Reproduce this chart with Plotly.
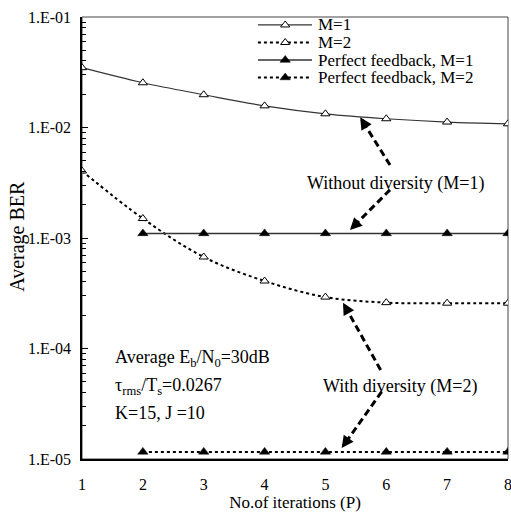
import plotly.graph_objects as go

# ---------------- data ----------------
P = [1, 2, 3, 4, 5, 6, 7, 8]
ber_m1 = [0.0348, 0.0254, 0.0198, 0.0157, 0.0133, 0.0120, 0.0112, 0.0108]
ber_m2 = [0.00404, 0.00150, 0.000673, 0.000408, 0.000292, 0.000260, 0.000257, 0.000257]
P_pf = [2, 3, 4, 5, 6, 7, 8]
ber_pf_m1 = [0.00110] * 7
ber_pf_m2 = [1.16e-5] * 7

legend_labels = ["M=1", "M=2", "Perfect feedback, M=1", "Perfect feedback, M=2"]
x_ticktext = ["1", "2", "3", "4", "5", "6", "7", "8"]
y_tickvals = [1e-5, 1e-4, 1e-3, 1e-2, 1e-1]
y_ticktext = ["1.E-05", "1.E-04", "1.E-03", "1.E-02", "1.E-01"]

FONT = "Liberation Serif, Times New Roman, serif"
W, H = 426, 442  # plot area in px

fig = go.Figure()

open_tri = dict(symbol="triangle-up", size=8, color="white", line=dict(color="black", width=1))
fill_tri = dict(symbol="triangle-up", size=9, color="black", line=dict(color="black", width=0.5))

fig.add_trace(go.Scatter(x=P, y=ber_m1, mode="lines+markers", line=dict(color="#333333", width=1.2, shape="spline"),
                         marker=open_tri, showlegend=False))
fig.add_trace(go.Scatter(x=P, y=ber_m2, mode="lines+markers", line=dict(color="black", width=2, dash="dot", shape="spline"),
                         marker=open_tri, showlegend=False))
fig.add_trace(go.Scatter(x=P_pf, y=ber_pf_m1, mode="lines+markers", line=dict(color="#333333", width=1.5),
                         marker=fill_tri, showlegend=False))
fig.add_trace(go.Scatter(x=P_pf, y=ber_pf_m2, mode="lines+markers", line=dict(color="black", width=2, dash="dot"),
                         marker=fill_tri, showlegend=False))

# ---------------- custom legend on an overlay (0..1) axis ----------------
leg_rows = [0.982, 0.9423, 0.9027, 0.8631]
leg_x0, leg_xm, leg_x1, leg_tx = 0.413, 0.477, 0.540, 0.549
leg_styles = [
    (dict(color="#333333", width=1.2), open_tri),
    (dict(color="black", width=2, dash="dot"), open_tri),
    (dict(color="#333333", width=1.5), fill_tri),
    (dict(color="black", width=2, dash="dot"), fill_tri),
]
for yy, (ln, mk), lab in zip(leg_rows, leg_styles, legend_labels):
    fig.add_trace(go.Scatter(x=[leg_x0, leg_x1], y=[yy, yy], mode="lines", line=ln,
                             xaxis="x2", yaxis="y2", showlegend=False, hoverinfo="skip"))
    fig.add_trace(go.Scatter(x=[leg_xm], y=[yy], mode="markers", marker=mk,
                             xaxis="x2", yaxis="y2", showlegend=False, hoverinfo="skip"))
    fig.add_annotation(x=leg_tx, y=yy, xref="paper", yref="paper", text=lab, showarrow=False,
                       xanchor="left", yanchor="middle", font=dict(family=FONT, size=17, color="black"))

# ---------------- text annotations ----------------
def txt(x, y, s, xanchor="center"):
    fig.add_annotation(x=x, y=y, xref="paper", yref="paper", text=s, showarrow=False,
                       xanchor=xanchor, yanchor="middle", font=dict(family=FONT, size=18, color="black"))

txt(0.737, 0.624, "Without diversity (M=1)")
txt(0.746, 0.163, "With diversity (M=2)")
txt(0.0735, 0.2285, "Average E<sub>b</sub>/N<sub>0</sub>=30dB", "left")
txt(0.0735, 0.163, "τ<sub>rms</sub>/T<sub>s</sub>=0.0267", "left")
txt(0.0735, 0.104, "K=15, J =10", "left")

# y-axis title placed as rotated text
fig.add_annotation(x=-0.150, y=0.503, xref="paper", yref="paper", text="Average BER", showarrow=False,
                   textangle=-90, xanchor="center", yanchor="middle",
                   font=dict(family=FONT, size=20, color="black"))

# ---------------- dashed arrows ----------------
arrows = [
    ((0.723, 0.665), (0.653, 0.773)),
    ((0.723, 0.609), (0.629, 0.518)),
    ((0.701, 0.2014), (0.6127, 0.3536)),
    ((0.7035, 0.1523), (0.6096, 0.0249)),
]
for (tx, ty), (hx, hy) in arrows:
    dxp = (tx - hx) * W
    dyp = (ty - hy) * H
    L = (dxp ** 2 + dyp ** 2) ** 0.5
    ux, uy = dxp / L, dyp / L
    back = 9
    ex, ey = hx + ux * back / W, hy + uy * back / H
    fig.add_shape(type="line", xref="paper", yref="paper", x0=tx, y0=ty, x1=ex, y1=ey,
                  line=dict(color="black", width=3, dash="7px,4px"))
    fig.add_annotation(x=hx, y=hy, xref="paper", yref="paper", text="", showarrow=True,
                       ax=ux * 12, ay=-uy * 12, arrowhead=2, arrowsize=0.8, arrowwidth=3,
                       arrowcolor="black", standoff=0)

# frame (top/right thin)
fig.add_shape(type="rect", xref="paper", yref="paper", x0=0, y0=0, x1=1, y1=1,
              line=dict(color="#444444", width=1), layer="below")

fig.update_layout(
    width=511, height=513,
    margin=dict(l=82, r=3, t=17, b=54, autoexpand=False),
    paper_bgcolor="white", plot_bgcolor="white",
    font=dict(family=FONT, color="black"),
    showlegend=False,
    xaxis=dict(range=[0.9995, 8.0005], tickvals=P, ticktext=x_ticktext, showgrid=False, zeroline=False,
               showline=True, linecolor="black", linewidth=2, ticks="", ticklabelstandoff=10,
               ticklabeloverflow="allow", automargin=False,
               tickfont=dict(family=FONT, size=16, color="black"),
               title=dict(text="No.of iterations (P)", font=dict(family=FONT, size=17, color="black"), standoff=4)),
    yaxis=dict(type="log", range=[-5, -1], tickvals=y_tickvals, ticktext=y_ticktext, showgrid=False,
               zeroline=False, showline=True, linecolor="black", linewidth=1.5,
               ticks="inside", ticklen=6, tickwidth=1, tickcolor="black", ticklabelstandoff=6,
               ticklabeloverflow="allow", automargin=False,
               tickfont=dict(family=FONT, size=16, color="black"),
               minor=dict(ticks="inside", ticklen=4, tickwidth=1, tickcolor="black",
                          tickvals=[m * 10 ** e for e in range(-5, -1) for m in range(2, 10)])),
    xaxis2=dict(range=[0, 1], overlaying="x", visible=False),
    yaxis2=dict(range=[0, 1], overlaying="y", visible=False),
)

fig.write_html("out.html")
